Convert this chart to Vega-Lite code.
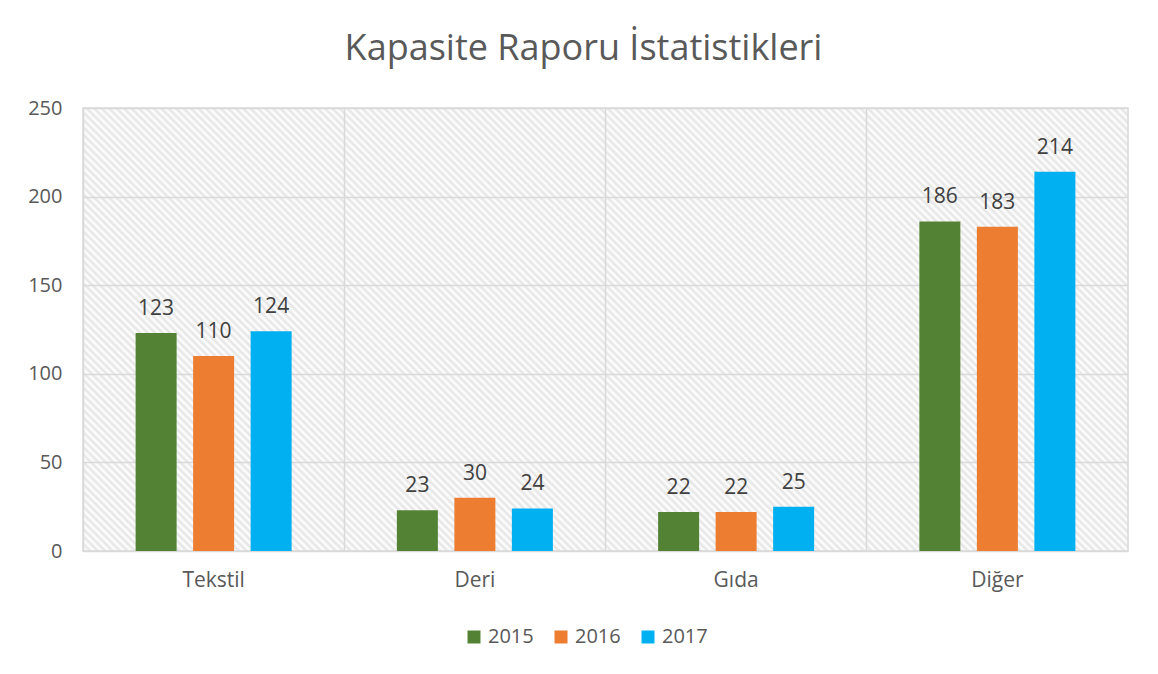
{
  "$schema": "https://vega.github.io/schema/vega-lite/v6.json",
  "width": 1045,
  "height": 443,
  "autosize": {"type": "none"},
  "padding": {"left": 83, "top": 108, "right": 30, "bottom": 123},
  "background": "white",
  "title": {"text": "Kapasite Raporu İstatistikleri", "fontSize": 36, "font": "Open Sans", "fontWeight": "normal", "color": "#595959", "offset": 30, "dx": -22},
  "config": {
    "view": {"stroke": "#d9d9d9", "strokeWidth": 1.5, "fill": {"gradient": "linear", "x1": 0, "y1": 1, "x2": 1.207, "y2": 0.4884, "stops": [
{"offset":0,"color":"#e4e4e4"},{"offset":0.0025,"color":"#fff"},{"offset":0.005,"color":"#e4e4e4"},{"offset":0.0075,"color":"#fff"},
{"offset":0.01,"color":"#e4e4e4"},{"offset":0.0125,"color":"#fff"},{"offset":0.015,"color":"#e4e4e4"},{"offset":0.0175,"color":"#fff"},
{"offset":0.02,"color":"#e4e4e4"},{"offset":0.0225,"color":"#fff"},{"offset":0.025,"color":"#e4e4e4"},{"offset":0.0275,"color":"#fff"},
{"offset":0.03,"color":"#e4e4e4"},{"offset":0.0325,"color":"#fff"},{"offset":0.035,"color":"#e4e4e4"},{"offset":0.0375,"color":"#fff"},
{"offset":0.04,"color":"#e4e4e4"},{"offset":0.0425,"color":"#fff"},{"offset":0.045,"color":"#e4e4e4"},{"offset":0.0475,"color":"#fff"},
{"offset":0.05,"color":"#e4e4e4"},{"offset":0.0525,"color":"#fff"},{"offset":0.055,"color":"#e4e4e4"},{"offset":0.0575,"color":"#fff"},
{"offset":0.06,"color":"#e4e4e4"},{"offset":0.0625,"color":"#fff"},{"offset":0.065,"color":"#e4e4e4"},{"offset":0.0675,"color":"#fff"},
{"offset":0.07,"color":"#e4e4e4"},{"offset":0.0725,"color":"#fff"},{"offset":0.075,"color":"#e4e4e4"},{"offset":0.0775,"color":"#fff"},
{"offset":0.08,"color":"#e4e4e4"},{"offset":0.0825,"color":"#fff"},{"offset":0.085,"color":"#e4e4e4"},{"offset":0.0875,"color":"#fff"},
{"offset":0.09,"color":"#e4e4e4"},{"offset":0.0925,"color":"#fff"},{"offset":0.095,"color":"#e4e4e4"},{"offset":0.0975,"color":"#fff"},
{"offset":0.10,"color":"#e4e4e4"},{"offset":0.1025,"color":"#fff"},{"offset":0.105,"color":"#e4e4e4"},{"offset":0.1075,"color":"#fff"},
{"offset":0.11,"color":"#e4e4e4"},{"offset":0.1125,"color":"#fff"},{"offset":0.115,"color":"#e4e4e4"},{"offset":0.1175,"color":"#fff"},
{"offset":0.12,"color":"#e4e4e4"},{"offset":0.1225,"color":"#fff"},{"offset":0.125,"color":"#e4e4e4"},{"offset":0.1275,"color":"#fff"},
{"offset":0.13,"color":"#e4e4e4"},{"offset":0.1325,"color":"#fff"},{"offset":0.135,"color":"#e4e4e4"},{"offset":0.1375,"color":"#fff"},
{"offset":0.14,"color":"#e4e4e4"},{"offset":0.1425,"color":"#fff"},{"offset":0.145,"color":"#e4e4e4"},{"offset":0.1475,"color":"#fff"},
{"offset":0.15,"color":"#e4e4e4"},{"offset":0.1525,"color":"#fff"},{"offset":0.155,"color":"#e4e4e4"},{"offset":0.1575,"color":"#fff"},
{"offset":0.16,"color":"#e4e4e4"},{"offset":0.1625,"color":"#fff"},{"offset":0.165,"color":"#e4e4e4"},{"offset":0.1675,"color":"#fff"},
{"offset":0.17,"color":"#e4e4e4"},{"offset":0.1725,"color":"#fff"},{"offset":0.175,"color":"#e4e4e4"},{"offset":0.1775,"color":"#fff"},
{"offset":0.18,"color":"#e4e4e4"},{"offset":0.1825,"color":"#fff"},{"offset":0.185,"color":"#e4e4e4"},{"offset":0.1875,"color":"#fff"},
{"offset":0.19,"color":"#e4e4e4"},{"offset":0.1925,"color":"#fff"},{"offset":0.195,"color":"#e4e4e4"},{"offset":0.1975,"color":"#fff"},
{"offset":0.20,"color":"#e4e4e4"},{"offset":0.2025,"color":"#fff"},{"offset":0.205,"color":"#e4e4e4"},{"offset":0.2075,"color":"#fff"},
{"offset":0.21,"color":"#e4e4e4"},{"offset":0.2125,"color":"#fff"},{"offset":0.215,"color":"#e4e4e4"},{"offset":0.2175,"color":"#fff"},
{"offset":0.22,"color":"#e4e4e4"},{"offset":0.2225,"color":"#fff"},{"offset":0.225,"color":"#e4e4e4"},{"offset":0.2275,"color":"#fff"},
{"offset":0.23,"color":"#e4e4e4"},{"offset":0.2325,"color":"#fff"},{"offset":0.235,"color":"#e4e4e4"},{"offset":0.2375,"color":"#fff"},
{"offset":0.24,"color":"#e4e4e4"},{"offset":0.2425,"color":"#fff"},{"offset":0.245,"color":"#e4e4e4"},{"offset":0.2475,"color":"#fff"},
{"offset":0.25,"color":"#e4e4e4"},{"offset":0.2525,"color":"#fff"},{"offset":0.255,"color":"#e4e4e4"},{"offset":0.2575,"color":"#fff"},
{"offset":0.26,"color":"#e4e4e4"},{"offset":0.2625,"color":"#fff"},{"offset":0.265,"color":"#e4e4e4"},{"offset":0.2675,"color":"#fff"},
{"offset":0.27,"color":"#e4e4e4"},{"offset":0.2725,"color":"#fff"},{"offset":0.275,"color":"#e4e4e4"},{"offset":0.2775,"color":"#fff"},
{"offset":0.28,"color":"#e4e4e4"},{"offset":0.2825,"color":"#fff"},{"offset":0.285,"color":"#e4e4e4"},{"offset":0.2875,"color":"#fff"},
{"offset":0.29,"color":"#e4e4e4"},{"offset":0.2925,"color":"#fff"},{"offset":0.295,"color":"#e4e4e4"},{"offset":0.2975,"color":"#fff"},
{"offset":0.30,"color":"#e4e4e4"},{"offset":0.3025,"color":"#fff"},{"offset":0.305,"color":"#e4e4e4"},{"offset":0.3075,"color":"#fff"},
{"offset":0.31,"color":"#e4e4e4"},{"offset":0.3125,"color":"#fff"},{"offset":0.315,"color":"#e4e4e4"},{"offset":0.3175,"color":"#fff"},
{"offset":0.32,"color":"#e4e4e4"},{"offset":0.3225,"color":"#fff"},{"offset":0.325,"color":"#e4e4e4"},{"offset":0.3275,"color":"#fff"},
{"offset":0.33,"color":"#e4e4e4"},{"offset":0.3325,"color":"#fff"},{"offset":0.335,"color":"#e4e4e4"},{"offset":0.3375,"color":"#fff"},
{"offset":0.34,"color":"#e4e4e4"},{"offset":0.3425,"color":"#fff"},{"offset":0.345,"color":"#e4e4e4"},{"offset":0.3475,"color":"#fff"},
{"offset":0.35,"color":"#e4e4e4"},{"offset":0.3525,"color":"#fff"},{"offset":0.355,"color":"#e4e4e4"},{"offset":0.3575,"color":"#fff"},
{"offset":0.36,"color":"#e4e4e4"},{"offset":0.3625,"color":"#fff"},{"offset":0.365,"color":"#e4e4e4"},{"offset":0.3675,"color":"#fff"},
{"offset":0.37,"color":"#e4e4e4"},{"offset":0.3725,"color":"#fff"},{"offset":0.375,"color":"#e4e4e4"},{"offset":0.3775,"color":"#fff"},
{"offset":0.38,"color":"#e4e4e4"},{"offset":0.3825,"color":"#fff"},{"offset":0.385,"color":"#e4e4e4"},{"offset":0.3875,"color":"#fff"},
{"offset":0.39,"color":"#e4e4e4"},{"offset":0.3925,"color":"#fff"},{"offset":0.395,"color":"#e4e4e4"},{"offset":0.3975,"color":"#fff"},
{"offset":0.40,"color":"#e4e4e4"},{"offset":0.4025,"color":"#fff"},{"offset":0.405,"color":"#e4e4e4"},{"offset":0.4075,"color":"#fff"},
{"offset":0.41,"color":"#e4e4e4"},{"offset":0.4125,"color":"#fff"},{"offset":0.415,"color":"#e4e4e4"},{"offset":0.4175,"color":"#fff"},
{"offset":0.42,"color":"#e4e4e4"},{"offset":0.4225,"color":"#fff"},{"offset":0.425,"color":"#e4e4e4"},{"offset":0.4275,"color":"#fff"},
{"offset":0.43,"color":"#e4e4e4"},{"offset":0.4325,"color":"#fff"},{"offset":0.435,"color":"#e4e4e4"},{"offset":0.4375,"color":"#fff"},
{"offset":0.44,"color":"#e4e4e4"},{"offset":0.4425,"color":"#fff"},{"offset":0.445,"color":"#e4e4e4"},{"offset":0.4475,"color":"#fff"},
{"offset":0.45,"color":"#e4e4e4"},{"offset":0.4525,"color":"#fff"},{"offset":0.455,"color":"#e4e4e4"},{"offset":0.4575,"color":"#fff"},
{"offset":0.46,"color":"#e4e4e4"},{"offset":0.4625,"color":"#fff"},{"offset":0.465,"color":"#e4e4e4"},{"offset":0.4675,"color":"#fff"},
{"offset":0.47,"color":"#e4e4e4"},{"offset":0.4725,"color":"#fff"},{"offset":0.475,"color":"#e4e4e4"},{"offset":0.4775,"color":"#fff"},
{"offset":0.48,"color":"#e4e4e4"},{"offset":0.4825,"color":"#fff"},{"offset":0.485,"color":"#e4e4e4"},{"offset":0.4875,"color":"#fff"},
{"offset":0.49,"color":"#e4e4e4"},{"offset":0.4925,"color":"#fff"},{"offset":0.495,"color":"#e4e4e4"},{"offset":0.4975,"color":"#fff"},
{"offset":0.50,"color":"#e4e4e4"},{"offset":0.5025,"color":"#fff"},{"offset":0.505,"color":"#e4e4e4"},{"offset":0.5075,"color":"#fff"},
{"offset":0.51,"color":"#e4e4e4"},{"offset":0.5125,"color":"#fff"},{"offset":0.515,"color":"#e4e4e4"},{"offset":0.5175,"color":"#fff"},
{"offset":0.52,"color":"#e4e4e4"},{"offset":0.5225,"color":"#fff"},{"offset":0.525,"color":"#e4e4e4"},{"offset":0.5275,"color":"#fff"},
{"offset":0.53,"color":"#e4e4e4"},{"offset":0.5325,"color":"#fff"},{"offset":0.535,"color":"#e4e4e4"},{"offset":0.5375,"color":"#fff"},
{"offset":0.54,"color":"#e4e4e4"},{"offset":0.5425,"color":"#fff"},{"offset":0.545,"color":"#e4e4e4"},{"offset":0.5475,"color":"#fff"},
{"offset":0.55,"color":"#e4e4e4"},{"offset":0.5525,"color":"#fff"},{"offset":0.555,"color":"#e4e4e4"},{"offset":0.5575,"color":"#fff"},
{"offset":0.56,"color":"#e4e4e4"},{"offset":0.5625,"color":"#fff"},{"offset":0.565,"color":"#e4e4e4"},{"offset":0.5675,"color":"#fff"},
{"offset":0.57,"color":"#e4e4e4"},{"offset":0.5725,"color":"#fff"},{"offset":0.575,"color":"#e4e4e4"},{"offset":0.5775,"color":"#fff"},
{"offset":0.58,"color":"#e4e4e4"},{"offset":0.5825,"color":"#fff"},{"offset":0.585,"color":"#e4e4e4"},{"offset":0.5875,"color":"#fff"},
{"offset":0.59,"color":"#e4e4e4"},{"offset":0.5925,"color":"#fff"},{"offset":0.595,"color":"#e4e4e4"},{"offset":0.5975,"color":"#fff"},
{"offset":0.60,"color":"#e4e4e4"},{"offset":0.6025,"color":"#fff"},{"offset":0.605,"color":"#e4e4e4"},{"offset":0.6075,"color":"#fff"},
{"offset":0.61,"color":"#e4e4e4"},{"offset":0.6125,"color":"#fff"},{"offset":0.615,"color":"#e4e4e4"},{"offset":0.6175,"color":"#fff"},
{"offset":0.62,"color":"#e4e4e4"},{"offset":0.6225,"color":"#fff"},{"offset":0.625,"color":"#e4e4e4"},{"offset":0.6275,"color":"#fff"},
{"offset":0.63,"color":"#e4e4e4"},{"offset":0.6325,"color":"#fff"},{"offset":0.635,"color":"#e4e4e4"},{"offset":0.6375,"color":"#fff"},
{"offset":0.64,"color":"#e4e4e4"},{"offset":0.6425,"color":"#fff"},{"offset":0.645,"color":"#e4e4e4"},{"offset":0.6475,"color":"#fff"},
{"offset":0.65,"color":"#e4e4e4"},{"offset":0.6525,"color":"#fff"},{"offset":0.655,"color":"#e4e4e4"},{"offset":0.6575,"color":"#fff"},
{"offset":0.66,"color":"#e4e4e4"},{"offset":0.6625,"color":"#fff"},{"offset":0.665,"color":"#e4e4e4"},{"offset":0.6675,"color":"#fff"},
{"offset":0.67,"color":"#e4e4e4"},{"offset":0.6725,"color":"#fff"},{"offset":0.675,"color":"#e4e4e4"},{"offset":0.6775,"color":"#fff"},
{"offset":0.68,"color":"#e4e4e4"},{"offset":0.6825,"color":"#fff"},{"offset":0.685,"color":"#e4e4e4"},{"offset":0.6875,"color":"#fff"},
{"offset":0.69,"color":"#e4e4e4"},{"offset":0.6925,"color":"#fff"},{"offset":0.695,"color":"#e4e4e4"},{"offset":0.6975,"color":"#fff"},
{"offset":0.70,"color":"#e4e4e4"},{"offset":0.7025,"color":"#fff"},{"offset":0.705,"color":"#e4e4e4"},{"offset":0.7075,"color":"#fff"},
{"offset":0.71,"color":"#e4e4e4"},{"offset":0.7125,"color":"#fff"},{"offset":0.715,"color":"#e4e4e4"},{"offset":0.7175,"color":"#fff"},
{"offset":0.72,"color":"#e4e4e4"},{"offset":0.7225,"color":"#fff"},{"offset":0.725,"color":"#e4e4e4"},{"offset":0.7275,"color":"#fff"},
{"offset":0.73,"color":"#e4e4e4"},{"offset":0.7325,"color":"#fff"},{"offset":0.735,"color":"#e4e4e4"},{"offset":0.7375,"color":"#fff"},
{"offset":0.74,"color":"#e4e4e4"},{"offset":0.7425,"color":"#fff"},{"offset":0.745,"color":"#e4e4e4"},{"offset":0.7475,"color":"#fff"},
{"offset":0.75,"color":"#e4e4e4"},{"offset":0.7525,"color":"#fff"},{"offset":0.755,"color":"#e4e4e4"},{"offset":0.7575,"color":"#fff"},
{"offset":0.76,"color":"#e4e4e4"},{"offset":0.7625,"color":"#fff"},{"offset":0.765,"color":"#e4e4e4"},{"offset":0.7675,"color":"#fff"},
{"offset":0.77,"color":"#e4e4e4"},{"offset":0.7725,"color":"#fff"},{"offset":0.775,"color":"#e4e4e4"},{"offset":0.7775,"color":"#fff"},
{"offset":0.78,"color":"#e4e4e4"},{"offset":0.7825,"color":"#fff"},{"offset":0.785,"color":"#e4e4e4"},{"offset":0.7875,"color":"#fff"},
{"offset":0.79,"color":"#e4e4e4"},{"offset":0.7925,"color":"#fff"},{"offset":0.795,"color":"#e4e4e4"},{"offset":0.7975,"color":"#fff"},
{"offset":0.80,"color":"#e4e4e4"},{"offset":0.8025,"color":"#fff"},{"offset":0.805,"color":"#e4e4e4"},{"offset":0.8075,"color":"#fff"},
{"offset":0.81,"color":"#e4e4e4"},{"offset":0.8125,"color":"#fff"},{"offset":0.815,"color":"#e4e4e4"},{"offset":0.8175,"color":"#fff"},
{"offset":0.82,"color":"#e4e4e4"},{"offset":0.8225,"color":"#fff"},{"offset":0.825,"color":"#e4e4e4"},{"offset":0.8275,"color":"#fff"},
{"offset":0.83,"color":"#e4e4e4"},{"offset":0.8325,"color":"#fff"},{"offset":0.835,"color":"#e4e4e4"},{"offset":0.8375,"color":"#fff"},
{"offset":0.84,"color":"#e4e4e4"},{"offset":0.8425,"color":"#fff"},{"offset":0.845,"color":"#e4e4e4"},{"offset":0.8475,"color":"#fff"},
{"offset":0.85,"color":"#e4e4e4"},{"offset":0.8525,"color":"#fff"},{"offset":0.855,"color":"#e4e4e4"},{"offset":0.8575,"color":"#fff"},
{"offset":0.86,"color":"#e4e4e4"},{"offset":0.8625,"color":"#fff"},{"offset":0.865,"color":"#e4e4e4"},{"offset":0.8675,"color":"#fff"},
{"offset":0.87,"color":"#e4e4e4"},{"offset":0.8725,"color":"#fff"},{"offset":0.875,"color":"#e4e4e4"},{"offset":0.8775,"color":"#fff"},
{"offset":0.88,"color":"#e4e4e4"},{"offset":0.8825,"color":"#fff"},{"offset":0.885,"color":"#e4e4e4"},{"offset":0.8875,"color":"#fff"},
{"offset":0.89,"color":"#e4e4e4"},{"offset":0.8925,"color":"#fff"},{"offset":0.895,"color":"#e4e4e4"},{"offset":0.8975,"color":"#fff"},
{"offset":0.90,"color":"#e4e4e4"},{"offset":0.9025,"color":"#fff"},{"offset":0.905,"color":"#e4e4e4"},{"offset":0.9075,"color":"#fff"},
{"offset":0.91,"color":"#e4e4e4"},{"offset":0.9125,"color":"#fff"},{"offset":0.915,"color":"#e4e4e4"},{"offset":0.9175,"color":"#fff"},
{"offset":0.92,"color":"#e4e4e4"},{"offset":0.9225,"color":"#fff"},{"offset":0.925,"color":"#e4e4e4"},{"offset":0.9275,"color":"#fff"},
{"offset":0.93,"color":"#e4e4e4"},{"offset":0.9325,"color":"#fff"},{"offset":0.935,"color":"#e4e4e4"},{"offset":0.9375,"color":"#fff"},
{"offset":0.94,"color":"#e4e4e4"},{"offset":0.9425,"color":"#fff"},{"offset":0.945,"color":"#e4e4e4"},{"offset":0.9475,"color":"#fff"},
{"offset":0.95,"color":"#e4e4e4"},{"offset":0.9525,"color":"#fff"},{"offset":0.955,"color":"#e4e4e4"},{"offset":0.9575,"color":"#fff"},
{"offset":0.96,"color":"#e4e4e4"},{"offset":0.9625,"color":"#fff"},{"offset":0.965,"color":"#e4e4e4"},{"offset":0.9675,"color":"#fff"},
{"offset":0.97,"color":"#e4e4e4"},{"offset":0.9725,"color":"#fff"},{"offset":0.975,"color":"#e4e4e4"},{"offset":0.9775,"color":"#fff"},
{"offset":0.98,"color":"#e4e4e4"},{"offset":0.9825,"color":"#fff"},{"offset":0.985,"color":"#e4e4e4"},{"offset":0.9875,"color":"#fff"},
{"offset":0.99,"color":"#e4e4e4"},{"offset":0.9925,"color":"#fff"},{"offset":0.995,"color":"#e4e4e4"},{"offset":0.9975,"color":"#fff"},
{"offset":1,"color":"#e4e4e4"}
    ]}},
    "font": "Open Sans"
  },
  "data": {"values": [
    {"cat": "Tekstil", "year": "2015", "v": 123},
    {"cat": "Tekstil", "year": "2016", "v": 110},
    {"cat": "Tekstil", "year": "2017", "v": 124},
    {"cat": "Deri", "year": "2015", "v": 23},
    {"cat": "Deri", "year": "2016", "v": 30},
    {"cat": "Deri", "year": "2017", "v": 24},
    {"cat": "Gıda", "year": "2015", "v": 22},
    {"cat": "Gıda", "year": "2016", "v": 22},
    {"cat": "Gıda", "year": "2017", "v": 25},
    {"cat": "Diğer", "year": "2015", "v": 186},
    {"cat": "Diğer", "year": "2016", "v": 183},
    {"cat": "Diğer", "year": "2017", "v": 214}
  ]},
  "encoding": {
    "x": {"field": "cat", "type": "nominal", "sort": ["Tekstil", "Deri", "Gıda", "Diğer"], "scale": {"paddingInner": 0, "paddingOuter": 0},
      "axis": {"title": null, "labelAngle": 0, "ticks": false, "domain": false, "grid": true, "bandPosition": 0, "gridColor": "#d9d9d9", "gridWidth": 1.5, "labelFontSize": 21, "labelColor": "#595959", "labelFont": "Open Sans", "labelPadding": 18}},
    "xOffset": {"field": "year", "type": "nominal", "scale": {"paddingInner": 0.287, "paddingOuter": 0.915}},
    "y": {"field": "v", "type": "quantitative", "scale": {"domain": [0, 250]},
      "axis": {"title": null, "values": [0, 50, 100, 150, 200, 250], "ticks": false, "domain": false, "gridColor": "#d9d9d9", "gridWidth": 1.5, "labelFontSize": 20, "labelPadding": 21, "labelColor": "#595959", "labelFont": "Open Sans"}}
  },
  "layer": [
    {"mark": {"type": "bar"},
     "encoding": {"color": {"field": "year", "type": "nominal", "scale": {"domain": ["2015", "2016", "2017"], "range": ["#548235", "#ED7D31", "#00B0F0"]},
       "legend": {"title": null, "orient": "none", "legendX": 381, "legendY": 519, "direction": "horizontal", "symbolType": "square", "symbolSize": 169, "symbolStrokeWidth": 0, "symbolOpacity": 1, "labelFontSize": 20, "labelColor": "#595959", "labelFont": "Open Sans", "columnPadding": 17, "labelOffset": 4}}}},
    {"mark": {"type": "text", "baseline": "alphabetic", "dy": -18, "fontSize": 21, "color": "#404040", "font": "Open Sans"},
     "encoding": {"text": {"field": "v", "type": "quantitative"}}}
  ]
}
